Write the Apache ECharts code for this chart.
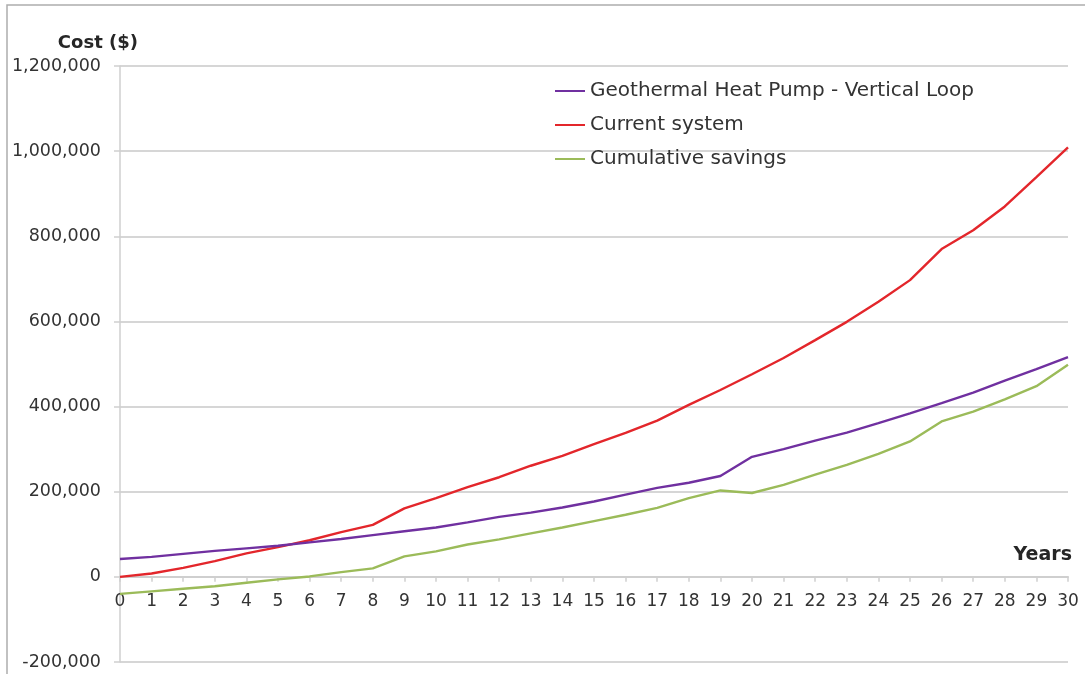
<!DOCTYPE html>
<html>
<head>
<meta charset="utf-8">
<script src="https://cdn.jsdelivr.net/npm/echarts@6/dist/echarts.min.js"></script>
<style>
  html, body { margin: 0; padding: 0; background: #fff; }
  #chart { width: 1085px; height: 674px; }
</style>
</head>
<body>
<div id="chart"></div>
<script>
// Years since installation
const years = ['0','1','2','3','4','5','6','7','8','9','10','11','12','13','14','15',
  '16','17','18','19','20','21','22','23','24','25','26','27','28','29','30'];

// Cumulative cost ($) of each option, and the running savings
const geothermal = [42000, 47000, 54000, 61000, 67000, 73000, 81000, 89000, 98000, 107000,
  116000, 128000, 141000, 151000, 163000, 177000, 193000, 209000, 221000, 237000,
  282000, 300000, 320000, 339000, 361000, 384000, 408000, 433000, 461000, 488000, 516000];
const currentSystem = [0, 8000, 21000, 37000, 55000, 70000, 86000, 105000, 122000, 161000,
  185000, 211000, 234000, 261000, 284000, 312000, 338000, 367000, 404000, 439000,
  476000, 514000, 556000, 599000, 646000, 697000, 770000, 814000, 870000, 939000, 1009000];
const savings = [-40000, -34000, -28000, -22000, -14000, -6000, 1000, 11000, 20000, 48000,
  60000, 76000, 88000, 102000, 116000, 131000, 146000, 162000, 185000, 203000,
  197000, 216000, 240000, 263000, 289000, 318000, 365000, 388000, 417000, 448000, 498000];

const seriesNames = ['Geothermal Heat Pump - Vertical Loop', 'Current system', 'Cumulative savings'];
const seriesColors = ['#7030a0', '#e3262b', '#9bbb59'];

const Y_MIN = -200000;
const Y_MAX = 1200000;
const GRID = { left: 120, right: 17, top: 66, bottom: 12 };
const CHART_H = 674;

// The category axis sits on the zero line; shift it up from the grid bottom by
// the distance between the bottom of the value range and zero.
const plotH = CHART_H - GRID.top - GRID.bottom;
const zeroShift = plotH * (0 - Y_MIN) / (Y_MAX - Y_MIN);

const FONT = 'DejaVu Sans';
const chart = echarts.init(document.getElementById('chart'), null, { renderer: 'canvas' });

const lineSeries = [geothermal, currentSystem, savings].map((values, i) => ({
  name: seriesNames[i],
  type: 'line',
  data: values,
  symbol: 'none',
  smooth: false,
  lineStyle: { color: seriesColors[i], width: 2.4 },
  itemStyle: { color: seriesColors[i] },
  z: 3 - i
}));

chart.setOption({
  animation: false,
  backgroundColor: '#ffffff',
  textStyle: { fontFamily: FONT },
  graphic: [{
    type: 'rect',
    shape: { x: 7, y: 5, width: 1200, height: 800 },
    style: { fill: 'none', stroke: '#adadad', lineWidth: 1.5 },
    silent: true
  }],
  legend: {
    orient: 'vertical',
    left: 550,
    top: 76,
    padding: 5,
    itemWidth: 30,
    itemHeight: 14,
    itemGap: 14,
    icon: 'path://M0,6 L30,6 L30,8 L0,8 Z',
    data: seriesNames,
    textStyle: { fontFamily: FONT, fontSize: 20, color: '#333333' }
  },
  grid: Object.assign({ containLabel: false, outerBoundsMode: 'none' }, GRID),
  xAxis: {
    type: 'category',
    data: years,
    boundaryGap: false,
    position: 'bottom',
    offset: -zeroShift,
    name: 'Years',
    nameLocation: 'end',
    nameGap: 4,
    nameTextStyle: {
      fontFamily: FONT, fontSize: 19, fontWeight: 'bold', color: '#262626',
      align: 'right', verticalAlign: 'bottom', padding: [0, 0, 12, 0]
    },
    axisLine: { onZero: false, lineStyle: { color: '#cfcfcf', width: 2 } },
    axisTick: { show: true, alignWithLabel: true, length: 5, lineStyle: { color: '#cfcfcf', width: 1.5 } },
    axisLabel: { fontFamily: FONT, fontSize: 17, color: '#333333', margin: 16, interval: 0 },
    splitLine: { show: false }
  },
  yAxis: {
    type: 'value',
    min: Y_MIN,
    max: Y_MAX,
    interval: 200000,
    name: 'Cost ($)',
    nameLocation: 'end',
    nameGap: 14,
    nameTextStyle: {
      fontFamily: FONT, fontSize: 18, fontWeight: 'bold', color: '#262626',
      align: 'right', padding: [0, -18, 0, 0]
    },
    axisLine: { show: true, lineStyle: { color: '#cfcfcf', width: 1.5 } },
    axisTick: { show: true, length: 6, lineStyle: { color: '#cfcfcf', width: 1.5 } },
    axisLabel: {
      fontFamily: FONT, fontSize: 17.5, color: '#333333', margin: 19,
      formatter: v => v.toLocaleString('en-US')
    },
    splitLine: { show: true, lineStyle: { color: '#d6d6d6', width: 2 } }
  },
  series: lineSeries
});
</script>
</body>
</html>
